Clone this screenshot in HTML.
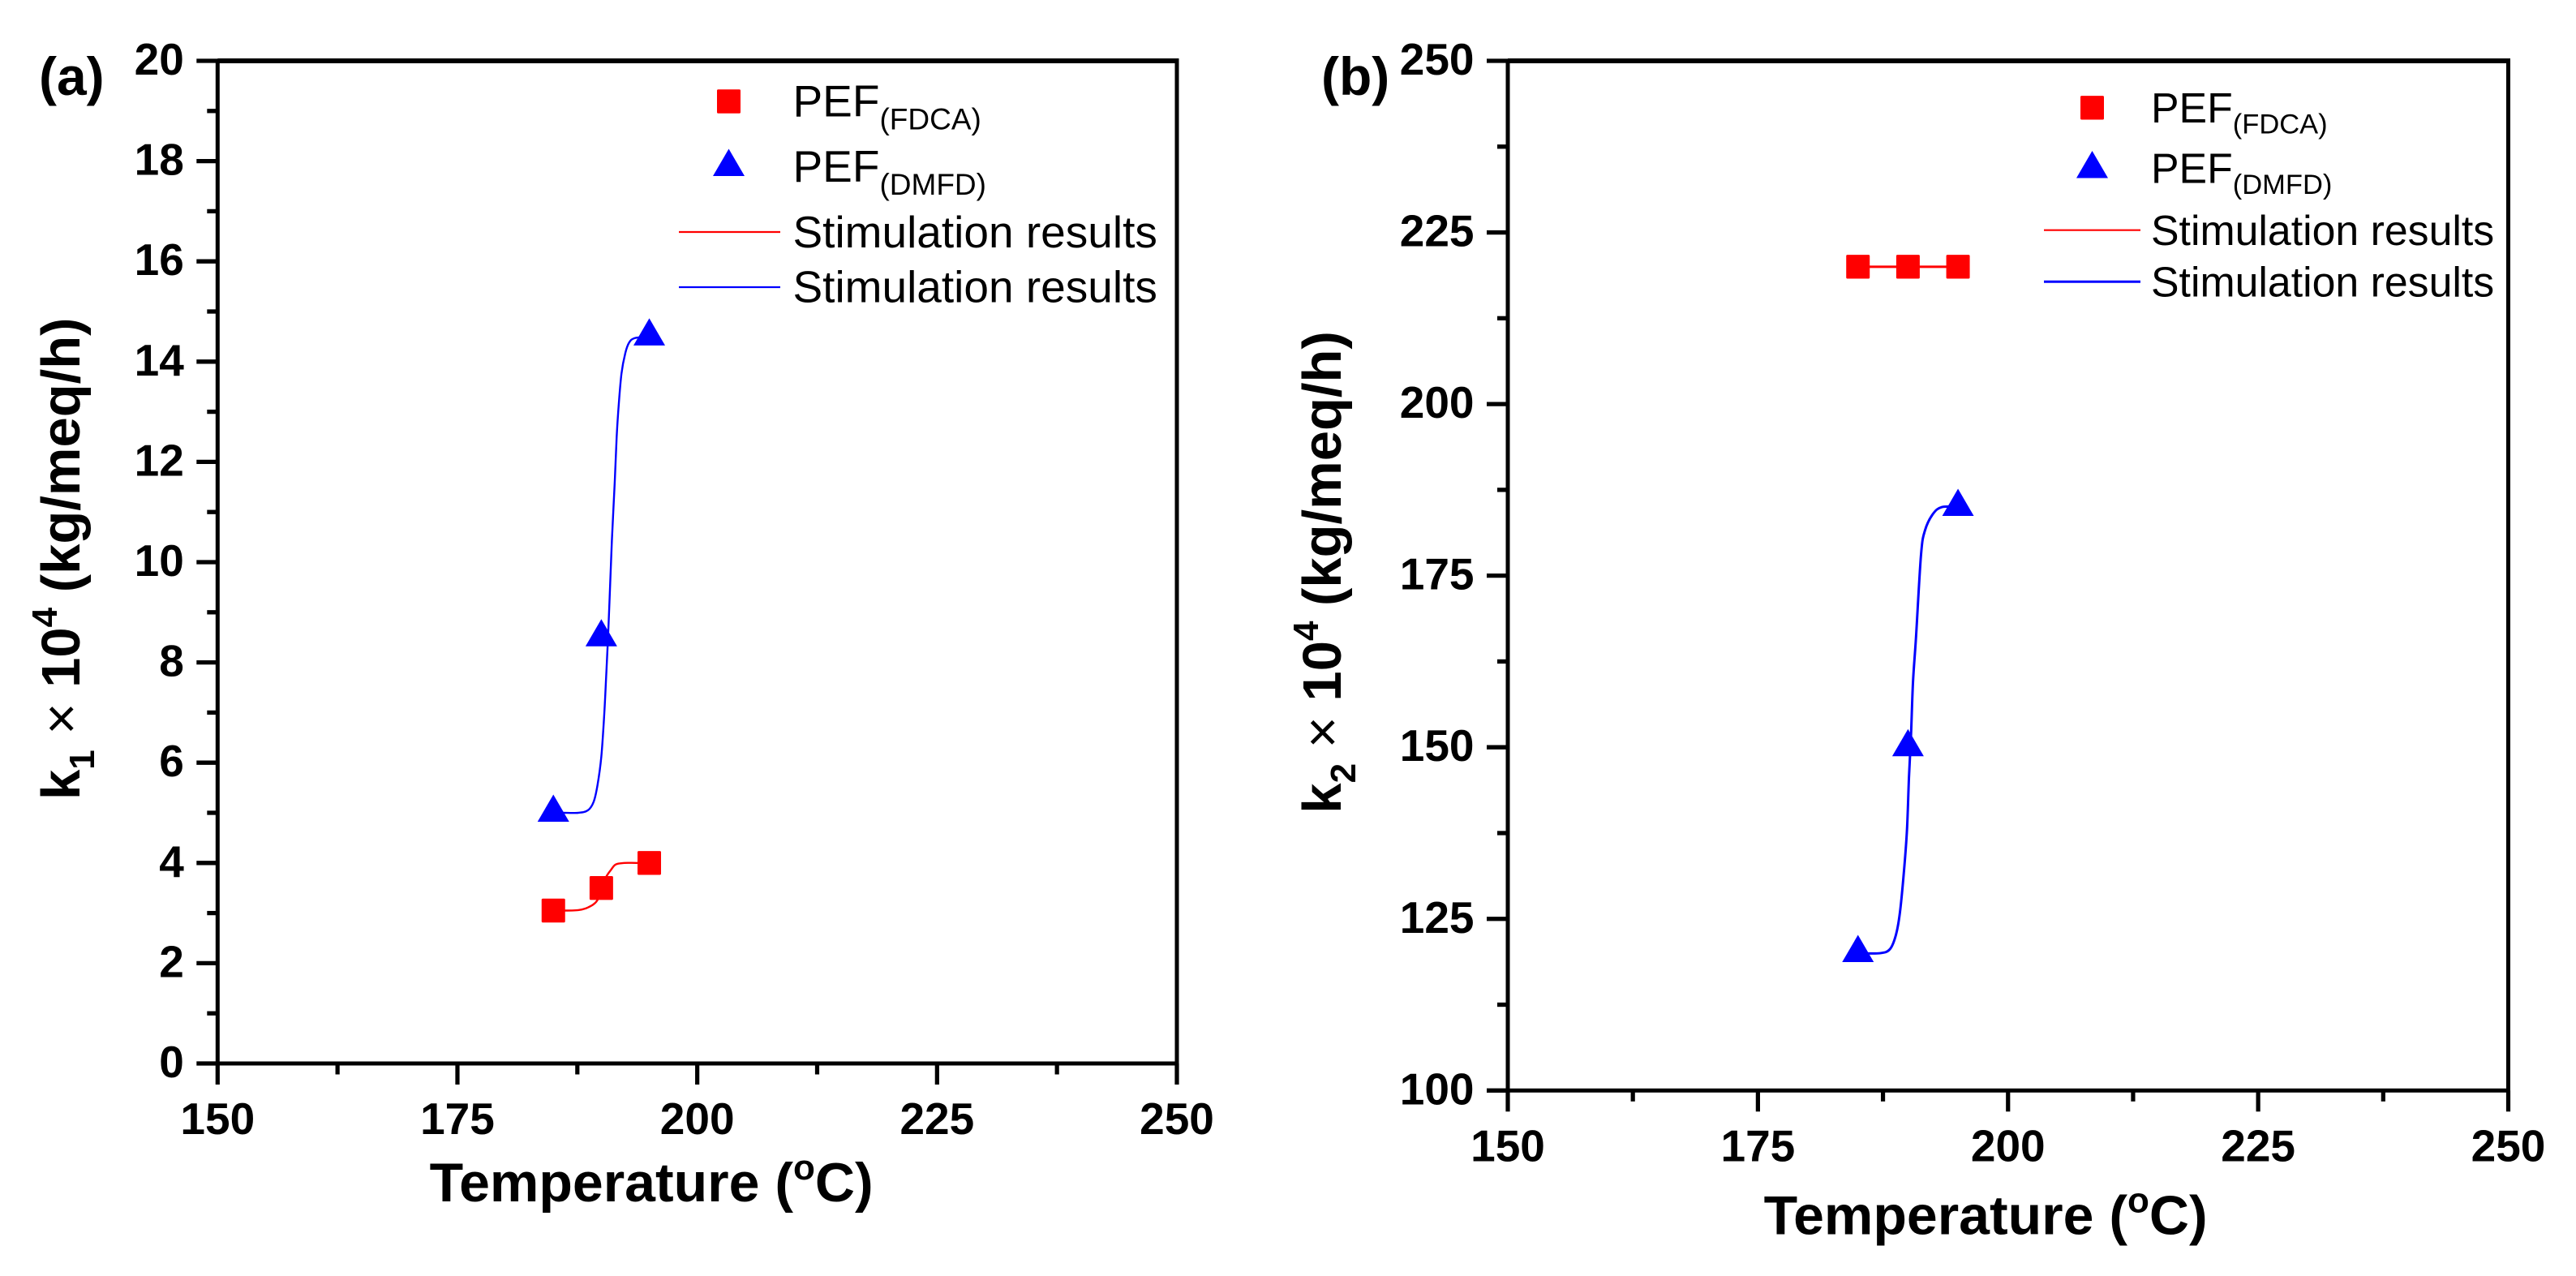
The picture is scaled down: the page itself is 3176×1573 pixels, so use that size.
<!DOCTYPE html>
<html lang="en">
<head>
<meta charset="utf-8">
<title>Rate constants k1 and k2 versus temperature</title>
<style>
html,body{margin:0;padding:0;background:#fff;}
body{width:3176px;height:1573px;overflow:hidden;}
svg{display:block;font-family:"Liberation Sans",Arial,sans-serif;}
</style>
</head>
<body>
<svg id="figure" xmlns="http://www.w3.org/2000/svg" width="3176" height="1573" viewBox="0 0 3176 1573"></svg>
<script>
/* ---------- data ---------- */
const temperatures = [185, 190, 195];

const xTickValues = [150, 175, 200, 225, 250];
const xMinorValues = [162.5, 187.5, 212.5, 237.5];

const yTicksA = [0, 2, 4, 6, 8, 10, 12, 14, 16, 18, 20];
const yMinorA = [1, 3, 5, 7, 9, 11, 13, 15, 17, 19];
const yTicksB = [100, 125, 150, 175, 200, 225, 250];
const yMinorB = [112.5, 137.5, 162.5, 187.5, 212.5, 237.5];

const fdcaA = [3.05, 3.5, 4];
const dmfdA = [5, 8.5, 14.5];
const fdcaB = [220, 220, 220];
const dmfdB = [120, 150, 185];

const fitTempFdcaA = [185, 187.6, 188.9, 189.6, 190, 190.5, 191, 191.5, 192.4, 193.6, 195];
const fitValFdcaA = [3.05, 3.06, 3.14, 3.26, 3.5, 3.72, 3.86, 3.97, 4, 4, 4];

const fitTempDmfdA = [185, 186, 187.6, 188.6, 189.2, 189.6, 190, 190.3, 190.5, 190.7, 190.9, 191.1, 191.4, 191.6, 191.8, 192.1, 192.5, 192.9, 193.5, 195];
const fitValDmfdA = [5, 5, 5, 5.05, 5.22, 5.55, 6.12, 6.95, 7.7, 8.5, 9.45, 10.43, 11.6, 12.5, 13.1, 13.76, 14.17, 14.38, 14.47, 14.5];

const fitTempFdcaB = [185, 190, 195];
const fitValFdcaB = [220, 220, 220];

const fitTempDmfdB = [185, 187.2, 188.2, 188.8, 189.2, 189.6, 189.9, 190.1, 190.3, 190.5, 190.8, 191.3, 191.7, 192.5, 193.4, 195];
const fitValDmfdB = [120, 120, 120.6, 122.7, 126, 132, 138, 145.7, 151.7, 159.5, 166, 178, 181.6, 184, 185, 185];

/* ---------- helpers ---------- */
const NS = 'http://www.w3.org/2000/svg';
const root = document.getElementById('figure');

function make(tag, parent, attrs) {
  const el = document.createElementNS(NS, tag);
  for (const k in attrs) el.setAttribute(k, attrs[k]);
  parent.appendChild(el);
  return el;
}
function scale(d0, d1, p0, p1) {
  return v => p0 + (v - d0) * (p1 - p0) / (d1 - d0);
}
function squareAt(parent, x, y, name) {
  const el = make('rect', parent, {x: x - 14.5, y: y - 14.7, width: 29, height: 29.4, rx: 1.5, fill: '#ff0000'});
  
  
  return el;
}
function triangleAt(parent, x, y, name) {
  const el = make('path', parent, {d: 'M' + x + ' ' + (y - 22.5) + 'L' + (x + 19.5) + ' ' + (y + 11) + 'L' + (x - 19.5) + ' ' + (y + 11) + 'Z', fill: '#0000ff'});
  
  
  return el;
}
function tspan(parent, str, attrs) {
  const t = make('tspan', parent, attrs || {});
  t.textContent = str;
  return t;
}
/* smooth path through the curve points (Catmull-Rom to Bezier) */
function smoothPath(px, py) {
  let d = 'M' + px[0].toFixed(2) + ' ' + py[0].toFixed(2);
  const n = px.length;
  for (let i = 0; i < n - 1; i++) {
    const i0 = Math.max(i - 1, 0), i3 = Math.min(i + 2, n - 1);
    const c1x = px[i] + (px[i + 1] - px[i0]) / 6;
    const c1y = py[i] + (py[i + 1] - py[i0]) / 6;
    const c2x = px[i + 1] - (px[i3] - px[i]) / 6;
    const c2y = py[i + 1] - (py[i3] - py[i]) / 6;
    d += 'C' + c1x.toFixed(2) + ' ' + c1y.toFixed(2) + ' ' + c2x.toFixed(2) + ' ' + c2y.toFixed(2) + ' ' + px[i + 1].toFixed(2) + ' ' + py[i + 1].toFixed(2);
  }
  return d;
}

function drawPanel(cfg) {
  const g = make('g', root, {});
  
  

  const X = scale(150, 250, cfg.left, cfg.right);
  const Y = scale(cfg.yMin, cfg.yMax, cfg.bottom, cfg.top);

  /* frame */
  const frame = make('rect', g, {x: cfg.left, y: cfg.top, width: cfg.right - cfg.left, height: cfg.bottom - cfg.top, fill: 'none', stroke: '#000', 'stroke-width': 5});
  
  
  const topEdge = make('line', g, {x1: cfg.left, x2: cfg.right + 2.5, y1: cfg.top, y2: cfg.top, stroke: '#000', 'stroke-width': 6});
  
  

  /* x ticks */
  xTickValues.forEach(v => {
    const t = make('line', g, {x1: X(v), x2: X(v), y1: cfg.bottom, y2: cfg.bottom + 26, stroke: '#000', 'stroke-width': 5.2});
    
    
    const l = make('text', g, {x: X(v), y: cfg.bottom + 87, 'text-anchor': 'middle', 'font-size': 55, 'font-weight': 'bold', fill: '#000'});
    l.textContent = v;
    
    
  });
  xMinorValues.forEach(v => {
    const t = make('line', g, {x1: X(v), x2: X(v), y1: cfg.bottom, y2: cfg.bottom + 13.5, stroke: '#000', 'stroke-width': 5.2});
    
    
  });

  /* y ticks */
  cfg.yTicks.forEach(v => {
    const t = make('line', g, {x1: cfg.left - 26, x2: cfg.left, y1: Y(v), y2: Y(v), stroke: '#000', 'stroke-width': 5.3});
    
    
    const l = make('text', g, {x: cfg.left - 41.5, y: Y(v) + 17, 'text-anchor': 'end', 'font-size': 55, 'font-weight': 'bold', fill: '#000'});
    l.textContent = v;
    
    
  });
  cfg.yMinor.forEach(v => {
    const t = make('line', g, {x1: cfg.left - 13, x2: cfg.left, y1: Y(v), y2: Y(v), stroke: '#000', 'stroke-width': 5.3});
    
    
  });

  /* fit curves */
  const redFit = make('path', g, {d: smoothPath(cfg.fitTempFdca.map(X), cfg.fitValFdca.map(Y)), fill: 'none', stroke: '#ff0000', 'stroke-width': cfg.fitW, 'stroke-linejoin': 'round'});
  
  
  const blueFit = make('path', g, {d: smoothPath(cfg.fitTempDmfd.map(X), cfg.fitValDmfd.map(Y)), fill: 'none', stroke: '#0000ff', 'stroke-width': cfg.fitW, 'stroke-linejoin': 'round'});
  
  

  /* markers */
  temperatures.forEach((T, i) => {
    squareAt(g, X(T), Y(cfg.fdca[i]), 'fdca-point-' + T);
    triangleAt(g, X(T), Y(cfg.dmfd[i]), 'dmfd-point-' + T);
  });

  /* x title */
  const xt = make('text', g, {x: cfg.xTitleX, y: cfg.xTitleY, 'font-size': 68, 'font-weight': 'bold', fill: '#000'});
  
  
  tspan(xt, 'Temperature (');
  tspan(xt, 'o', {'font-size': 44, dy: -27});
  tspan(xt, 'C)', {dy: 27});

  /* y title */
  const yt = make('text', g, {transform: 'translate(' + cfg.yTitleX + ' ' + cfg.yTitleY + ') rotate(-90)', 'font-size': 67, 'font-weight': 'bold', fill: '#000'});
  
  
  tspan(yt, 'k');
  tspan(yt, cfg.kSub, {'font-size': 44, dy: 18});
  tspan(yt, ' ', {dy: -18});
  tspan(yt, '\u00d7', {'font-weight': 'normal'});
  tspan(yt, ' 10');
  tspan(yt, '4', {'font-size': 44, dy: -28});
  tspan(yt, ' (kg/meq/h)', {dy: 28});

  /* panel tag */
  const tag = make('text', g, {x: cfg.tagX, y: cfg.tagY, 'font-size': 66, 'font-weight': 'bold', fill: '#000'});
  tag.textContent = '(' + cfg.id + ')';
  
  

  /* legend */
  const leg = make('g', g, {});
  
  
  const L = cfg.legend;

  squareAt(leg, L.symX, L.sqY, 'legend-fdca-symbol');
  const t1 = make('text', leg, {x: L.textX, y: L.pef1Y, 'font-size': L.size, fill: '#000'});
  
  
  tspan(t1, 'PEF');
  tspan(t1, '(FDCA)', {'font-size': L.subSize, dy: L.subDy});

  triangleAt(leg, L.symX, L.triY, 'legend-dmfd-symbol');
  const t2 = make('text', leg, {x: L.textX, y: L.pef2Y, 'font-size': L.size, fill: '#000'});
  
  
  tspan(t2, 'PEF');
  tspan(t2, '(DMFD)', {'font-size': L.subSize, dy: L.subDy});

  const l1 = make('line', leg, {x1: L.lineX1, x2: L.lineX2, y1: L.line1Y, y2: L.line1Y, stroke: '#ff0000', 'stroke-width': L.line1W});
  
  
  const s1 = make('text', leg, {x: L.textX, y: L.stim1Y, 'font-size': L.size, fill: '#000'});
  s1.textContent = 'Stimulation results';
  
  

  const l2 = make('line', leg, {x1: L.lineX1, x2: L.lineX2, y1: L.line2Y, y2: L.line2Y, stroke: '#0000ff', 'stroke-width': L.line2W});
  
  
  const s2 = make('text', leg, {x: L.textX, y: L.stim2Y, 'font-size': L.size, fill: '#000'});
  s2.textContent = 'Stimulation results';
  
  
}

drawPanel({
  id: 'a', left: 268.3, right: 1451, top: 75, bottom: 1311, fitW: 2.4,
  yMin: 0, yMax: 20, yTicks: yTicksA, yMinor: yMinorA,
  fdca: fdcaA, dmfd: dmfdA,
  fitTempFdca: fitTempFdcaA, fitValFdca: fitValFdcaA,
  fitTempDmfd: fitTempDmfdA, fitValDmfd: fitValDmfdA,
  xTitleX: 529.6, xTitleY: 1481, yTitleX: 98, yTitleY: 986, kSub: '1',
  tagX: 48, tagY: 117,
  legend: {symX: 898.5, sqY: 125, triY: 206, textX: 977.5, size: 55, subSize: 37, subDy: 16,
    pef1Y: 143.5, pef2Y: 224, stim1Y: 305, stim2Y: 372.7, line1Y: 286, line2Y: 354,
    lineX1: 837, lineX2: 962, line1W: 2.2, line2W: 2.2}
});

drawPanel({
  id: 'b', left: 1859, right: 3092.5, top: 75, bottom: 1344.3, fitW: 3,
  yMin: 100, yMax: 250, yTicks: yTicksB, yMinor: yMinorB,
  fdca: fdcaB, dmfd: dmfdB,
  fitTempFdca: fitTempFdcaB, fitValFdca: fitValFdcaB,
  fitTempDmfd: fitTempDmfdB, fitValDmfd: fitValDmfdB,
  xTitleX: 2174.6, xTitleY: 1521.7, yTitleX: 1653, yTitleY: 1002.7, kSub: '2',
  tagX: 1629, tagY: 117,
  legend: {symX: 2579.5, sqY: 132.8, triY: 208.5, textX: 2652, size: 51.8, subSize: 34.5, subDy: 13.3,
    pef1Y: 151, pef2Y: 225.7, stim1Y: 302, stim2Y: 365.3, line1Y: 283.7, line2Y: 347.3,
    lineX1: 2520, lineX2: 2639, line1W: 2.2, line2W: 3}
});
</script>
</body>
</html>
